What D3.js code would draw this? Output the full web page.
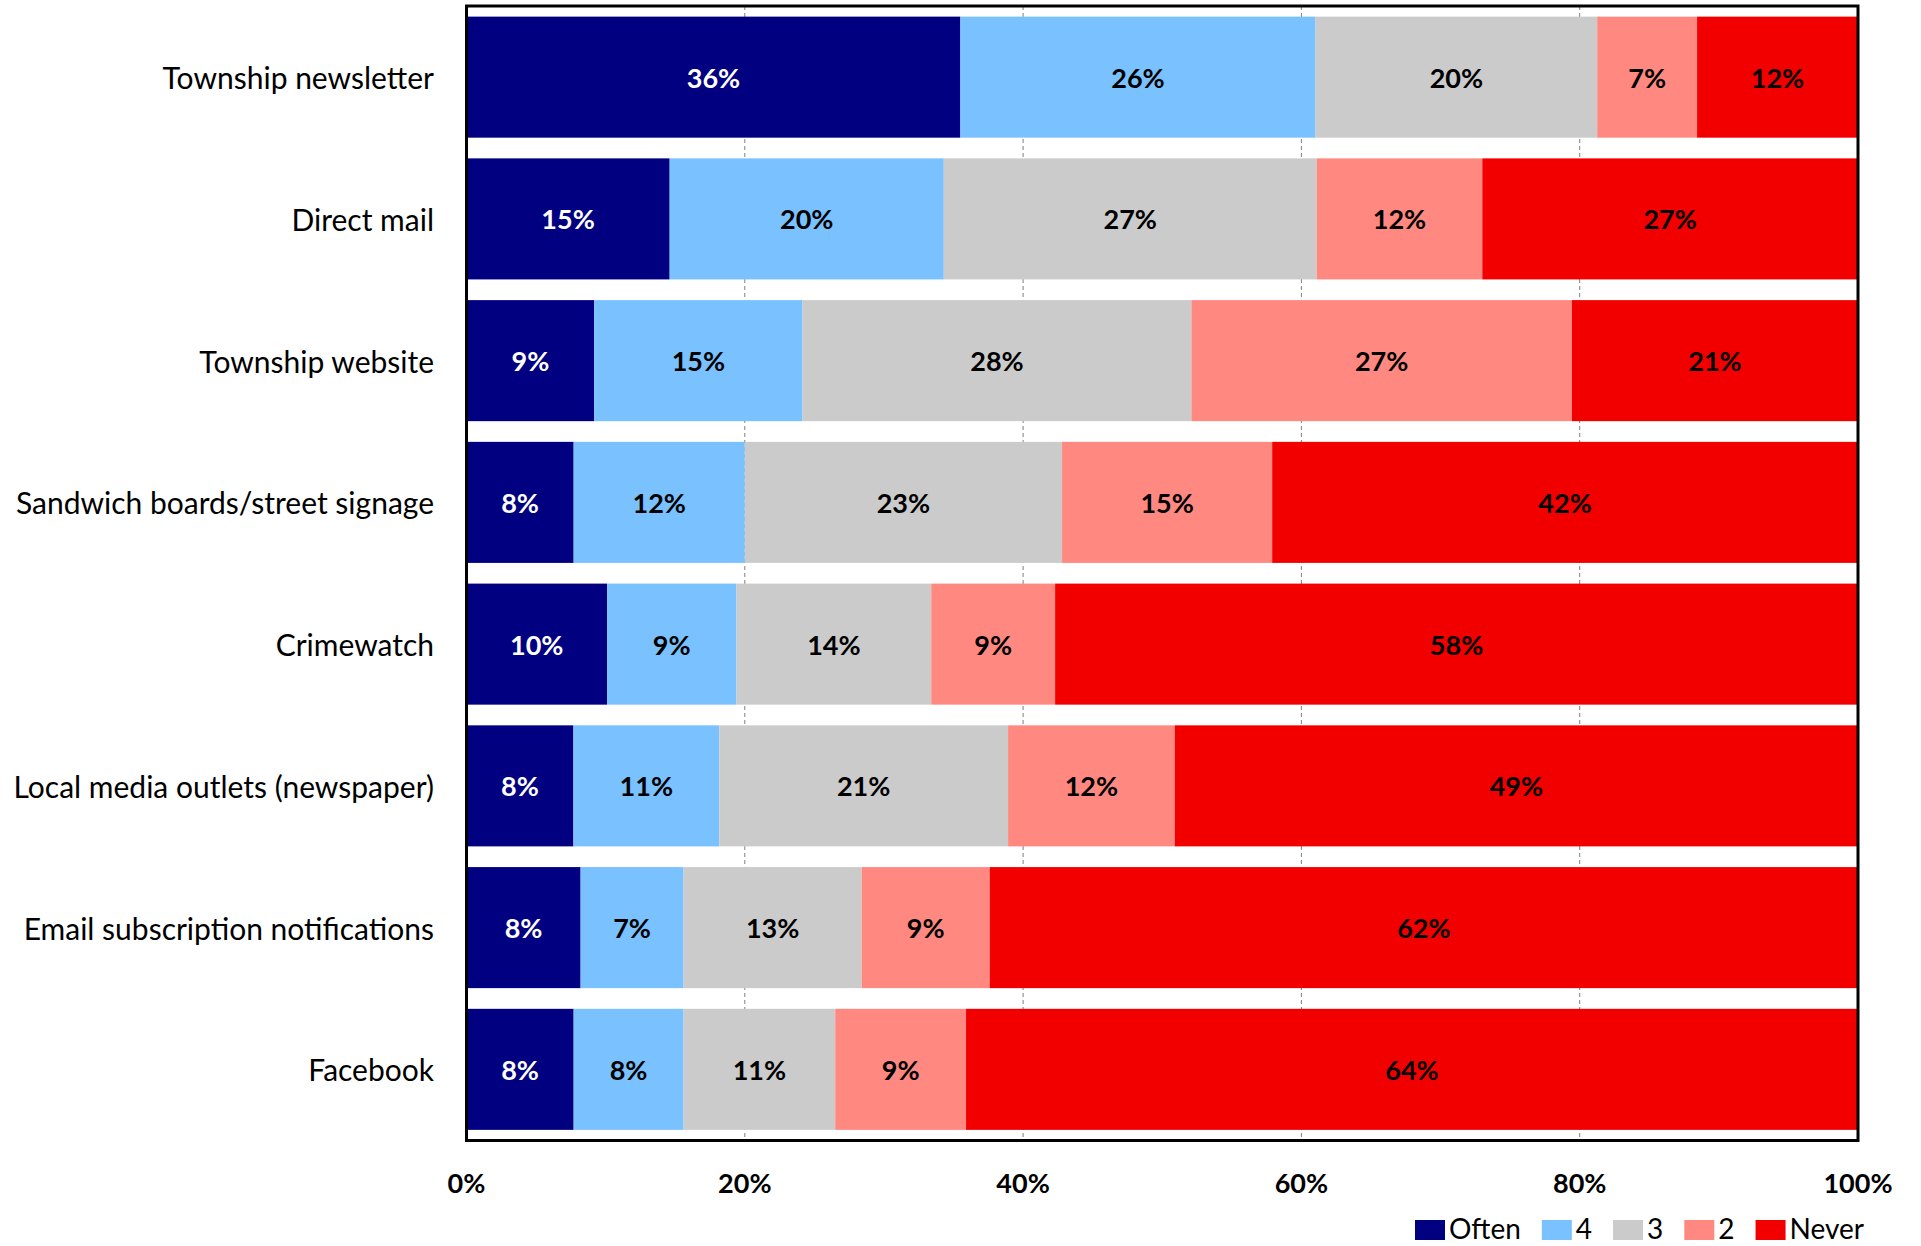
<!DOCTYPE html>
<html>
<head>
<meta charset="utf-8">
<script src="https://cdn.jsdelivr.net/npm/d3@7"></script>
<style>
  html, body { margin: 0; padding: 0; background: #fff; }
  svg { display: block; }
  text { font-family: Lato, "Open Sans", sans-serif; }
</style>
</head>
<body>
<svg id="chart" width="1921" height="1246"></svg>
<script>
// ---- data ----
const categories = [
  "Township newsletter",
  "Direct mail",
  "Township website",
  "Sandwich boards/street signage",
  "Crimewatch",
  "Local media outlets (newspaper)",
  "Email subscription notifications",
  "Facebook"
];
const seriesNames = ["Often", "4", "3", "2", "Never"];
const often = [35.6, 14.6, 9.2, 7.7, 10.1, 7.7, 8.2, 7.7];
const four  = [25.6, 19.7, 15.0, 12.3, 9.3, 10.5, 7.4, 7.9];
const three = [20.3, 26.8, 28.0, 22.8, 14.0, 20.8, 12.8, 10.9];
const two   = [7.2, 11.9, 27.4, 15.1, 8.9, 12.0, 9.2, 9.4];
const never = [11.6, 27.0, 20.6, 42.1, 57.7, 49.2, 62.4, 64.1];
const tickValues = [0, 0.2, 0.4, 0.6, 0.8, 1.0];
const tickLabels = ["0%", "20%", "40%", "60%", "80%", "100%"];

const colors = ["#000080", "#79C2FF", "#CBCBCB", "#FF8880", "#F20000"];
const labelColors = ["#ffffff", "#000000", "#000000", "#000000", "#000000"];

// ---- build table ----
const seriesArrays = [often, four, three, two, never];
const rows = categories.map((c, i) => {
  const r = { category: c };
  seriesNames.forEach((s, j) => { r[s] = seriesArrays[j][i]; });
  return r;
});
const stacked = d3.stack().keys(seriesNames).offset(d3.stackOffsetExpand)(rows);

// ---- layout ----
const svg = d3.select("#chart");
const pLeft = 466.5, pRight = 1858, pTop = 6, pBottom = 1140.5;

const x = d3.scaleLinear().domain([0, 1]).range([pLeft, pRight]);
const y = d3.scaleBand().domain(categories).range([pTop, pBottom])
  .paddingInner(0.146).paddingOuter(0.075);

// gridlines (dashed, behind bars)
svg.append("g").selectAll("line")
  .data(tickValues.filter(v => v > 0 && v < 1))
  .join("line")
  .attr("x1", d => x(d)).attr("x2", d => x(d))
  .attr("y1", pTop).attr("y2", pBottom)
  .attr("stroke", "#7f7f7f").attr("stroke-width", 1)
  .attr("stroke-dasharray", "4,3");

// bars
const layers = svg.append("g").selectAll("g")
  .data(stacked)
  .join("g")
  .attr("fill", (d, i) => colors[i]);

layers.selectAll("rect")
  .data(d => d)
  .join("rect")
  .attr("x", d => x(d[0]))
  .attr("width", d => x(d[1]) - x(d[0]))
  .attr("y", d => y(d.data.category))
  .attr("height", y.bandwidth());

// value labels
stacked.forEach((layer, li) => {
  svg.append("g").selectAll("text")
    .data(layer)
    .join("text")
    .attr("x", d => (x(d[0]) + x(d[1])) / 2)
    .attr("y", d => y(d.data.category) + y.bandwidth() / 2)
    .attr("text-anchor", "middle")
    .attr("dominant-baseline", "central")
    .attr("font-size", 27)
    .attr("font-weight", 700)
    .attr("fill", labelColors[li])
    .text(d => Math.round(d.data[layer.key]) + "%");
});

// frame
svg.append("rect")
  .attr("x", pLeft).attr("y", pTop)
  .attr("width", pRight - pLeft).attr("height", pBottom - pTop)
  .attr("fill", "none").attr("stroke", "#000").attr("stroke-width", 3);

// category axis labels
svg.append("g").selectAll("text")
  .data(categories)
  .join("text")
  .attr("x", 434)
  .attr("y", d => y(d) + y.bandwidth() / 2)
  .attr("text-anchor", "end")
  .attr("dominant-baseline", "central")
  .attr("font-size", 30)
  .attr("fill", "#000")
  .text(d => d);

// x-axis tick labels
svg.append("g").selectAll("text")
  .data(tickValues)
  .join("text")
  .attr("x", d => x(d))
  .attr("y", 1193)
  .attr("text-anchor", "middle")
  .attr("font-size", 27)
  .attr("font-weight", 700)
  .attr("fill", "#000")
  .text((d, i) => tickLabels[i]);

// legend
const legend = svg.append("g");
let lx = 1415;
seriesNames.forEach((s, i) => {
  legend.append("rect")
    .attr("x", lx).attr("y", 1220)
    .attr("width", 30).attr("height", 20)
    .attr("fill", colors[i]);
  const t = legend.append("text")
    .attr("x", lx + 34).attr("y", 1239)
    .attr("font-size", 28)
    .attr("fill", "#000")
    .text(s);
  lx += 34 + t.node().getComputedTextLength() + 21;
});
</script>
</body>
</html>
